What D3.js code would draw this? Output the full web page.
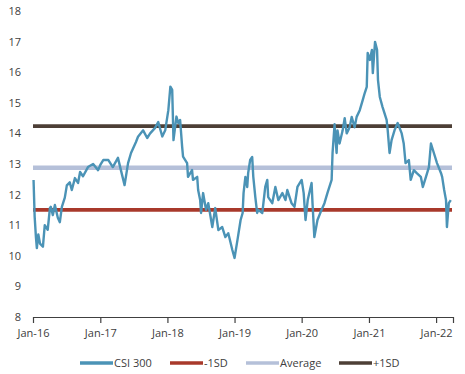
<!DOCTYPE html>
<html>
<head>
    <title>CSI 300 Forward P/E</title>
    <meta charset="utf-8">
    <script src="https://cdnjs.cloudflare.com/ajax/libs/d3/7.8.5/d3.min.js"></script>
    <style>
        * { margin: 0; padding: 0; }
        body { background: #fff; }
        text { font-family: "Open Sans", sans-serif; fill: #404040; }
    </style>
</head>
<body>
<script>
    // CSI 300 series
    var dates = [
        "2016-01-04","2016-01-10","2016-01-17","2016-01-22","2016-01-30","2016-02-08","2016-02-24","2016-03-05",
        "2016-03-21","2016-04-02","2016-04-07","2016-04-18","2016-04-29","2016-05-15","2016-05-26","2016-06-06",
        "2016-06-22","2016-07-03","2016-07-19","2016-07-30","2016-08-16","2016-09-02","2016-09-13","2016-09-29",
        "2016-10-26","2016-11-23","2016-12-20","2017-01-01","2017-01-17","2017-02-14","2017-03-10","2017-04-07",
        "2017-04-23","2017-05-13","2017-06-01","2017-06-17","2017-07-14","2017-07-25","2017-08-22","2017-09-13",
        "2017-09-29","2017-10-26","2017-11-12","2017-12-04","2017-12-20","2018-01-06","2018-01-17","2018-01-27",
        "2018-02-03","2018-02-19","2018-03-01","2018-03-11","2018-03-22","2018-03-27","2018-04-18","2018-04-23",
        "2018-05-15","2018-05-20","2018-06-12","2018-06-17","2018-06-28","2018-07-03","2018-07-14","2018-07-30",
        "2018-08-11","2018-09-02","2018-09-18","2018-10-05","2018-10-26","2018-11-12","2018-11-28","2018-12-20",
        "2019-01-01","2019-01-17","2019-02-03","2019-02-14","2019-02-19","2019-03-01","2019-03-11","2019-03-16",
        "2019-03-27","2019-04-07","2019-04-13","2019-04-24","2019-05-04","2019-05-10","2019-06-01","2019-06-17",
        "2019-06-28","2019-07-03","2019-07-25","2019-08-11","2019-08-27","2019-09-18","2019-10-05","2019-10-15",
        "2019-11-07","2019-11-23","2019-12-09","2020-01-01","2020-01-12","2020-01-22","2020-02-03","2020-02-24",
        "2020-02-29","2020-03-10","2020-03-27","2020-04-18","2020-05-04","2020-05-20","2020-06-12","2020-06-17",
        "2020-06-28","2020-07-09","2020-07-14","2020-07-25","2020-08-11","2020-08-22","2020-09-02","2020-09-18",
        "2020-09-29","2020-10-15","2020-10-26","2020-11-12","2020-11-28","2020-12-09","2020-12-20","2020-12-25",
        "2021-01-06","2021-01-17","2021-01-22","2021-02-03","2021-02-14","2021-02-19","2021-03-01","2021-03-16",
        "2021-04-07","2021-04-13","2021-04-23","2021-05-04","2021-05-20","2021-06-06","2021-06-28","2021-07-09",
        "2021-07-19","2021-08-06","2021-08-16","2021-09-02","2021-09-18","2021-10-10","2021-10-21","2021-11-07",
        "2021-11-23","2021-12-04","2021-12-20","2022-01-06","2022-01-28","2022-02-03","2022-02-14","2022-02-24",
        "2022-03-01","2022-03-11","2022-03-22"
    ];
    var csi300 = [
        12.48,11.28,10.6,10.25,10.7,10.4,10.3,11.0,
        10.85,11.56,11.6,11.33,11.66,11.24,11.1,11.6,
        11.9,12.3,12.4,12.15,12.54,12.38,12.74,12.6,
        12.9,13.0,12.8,12.97,13.13,13.13,12.9,13.2,
        12.8,12.31,13.03,13.36,13.72,13.89,14.1,13.85,
        14.0,14.18,14.37,13.9,14.1,14.76,15.53,15.42,
        13.78,14.55,14.34,14.44,13.57,13.24,13.03,12.58,
        12.8,12.48,12.58,12.15,11.82,11.4,12.05,11.5,
        11.72,10.94,11.56,10.84,10.94,10.61,10.74,10.19,
        9.93,10.52,11.17,11.4,12.05,12.58,12.25,12.7,
        13.13,13.23,12.58,11.92,11.4,11.5,11.4,12.25,
        12.48,11.92,11.72,12.25,11.82,12.05,11.82,12.15,
        11.72,11.6,12.25,12.48,12.05,11.17,11.82,12.38,
        11.72,10.61,11.17,11.5,11.72,12.05,12.48,13.36,
        14.3,13.36,14.1,13.67,14.1,14.5,14.0,14.2,
        14.54,14.2,14.54,14.76,15.09,15.32,15.52,16.63,
        16.4,16.73,15.97,16.99,16.73,15.75,15.19,14.86,
        14.44,14.1,13.36,13.78,14.1,14.34,14.0,13.67,
        13.03,13.13,12.48,12.8,12.7,12.58,12.25,12.58,
        12.9,13.67,13.36,13.03,12.7,12.58,12.15,11.82,
        10.94,11.72,11.82
    ];

    // Reference levels
    var bandNames = ["-1SD", "Average", "+1SD"];
    var bandValues = [11.5, 12.88, 14.24];
    var bandColors = ["#a8392b", "#b5c0d9", "#4d3f36"];

    var yTicks = [8, 9, 10, 11, 12, 13, 14, 15, 16, 17, 18];
    var xTicks = ["2016-01-01","2017-01-01","2018-01-01","2019-01-01","2020-01-01","2021-01-01","2022-01-01"];

    var lineColor = "#4b93b6";

    var width = 465, height = 374;
    var plotLeft = 33, plotRight = 453, plotTop = 11, plotBottom = 317;

    var parse = d3.timeParse("%Y-%m-%d");
    var data = dates.map(function(d, i) {
        return { date: parse(d), value: csi300[i] };
    });

    var svg = d3.select("body").append("svg")
        .attr("width", width)
        .attr("height", height);

    var x = d3.scaleTime()
        .domain([parse("2016-01-01"), parse("2022-04-03")])
        .range([plotLeft, plotRight]);

    var y = d3.scaleLinear()
        .domain([8, 18])
        .range([plotBottom, plotTop]);

    // y labels, no axis line
    svg.append("g")
        .attr("transform", "translate(" + plotLeft + ",0)")
        .call(d3.axisLeft(y).tickValues(yTicks).tickSize(0).tickPadding(12).tickFormat(d3.format("d")))
        .call(function(g) { g.select(".domain").remove(); })
        .selectAll("text")
        .style("font-size", "11px")
        .style("font-family", "'Open Sans', sans-serif")
        .attr("fill", "#404040");

    // x axis
    var xAxis = svg.append("g")
        .attr("transform", "translate(0," + plotBottom + ")")
        .call(d3.axisBottom(x)
            .tickValues(xTicks.map(parse).concat([x.domain()[1]]))
            .tickSize(6)
            .tickSizeOuter(0)
            .tickPadding(6)
            .tickFormat(function(d, i) { return i < xTicks.length ? d3.timeFormat("%b-%y")(d) : ""; }));
    xAxis.select(".domain").attr("stroke", "#404040").attr("stroke-width", 1.2);
    xAxis.selectAll(".tick line").attr("stroke", "#404040").attr("stroke-width", 1.2);
    xAxis.selectAll("text")
        .style("font-size", "11px")
        .style("font-family", "'Open Sans', sans-serif")
        .attr("fill", "#404040");

    // SD bands
    svg.selectAll(".band")
        .data(bandValues)
        .enter().append("line")
        .attr("class", "band")
        .attr("x1", plotLeft)
        .attr("x2", plotRight - 1)
        .attr("y1", function(d) { return y(d); })
        .attr("y2", function(d) { return y(d); })
        .attr("stroke", function(d, i) { return bandColors[i]; })
        .attr("stroke-width", function(d, i) { return i == 1 ? 4.5 : 3.8; });

    // CSI 300 line
    var line = d3.line()
        .x(function(d) { return x(d.date); })
        .y(function(d) { return y(d.value); });

    svg.append("path")
        .datum(data)
        .attr("fill", "none")
        .attr("stroke", lineColor)
        .attr("stroke-width", 2.4)
        .attr("stroke-linejoin", "round")
        .attr("d", line);

    // Legend
    var legendNames = ["CSI 300"].concat(bandNames);
    var legendColors = [lineColor].concat(bandColors);
    var legendX = [80, 170, 246, 339];

    var legend = svg.selectAll(".legend")
        .data(legendNames)
        .enter().append("g")
        .attr("class", "legend")
        .attr("transform", function(d, i) { return "translate(" + legendX[i] + ",363)"; });

    legend.append("line")
        .attr("x1", 0)
        .attr("x2", 33)
        .attr("stroke", function(d, i) { return legendColors[i]; })
        .attr("stroke-width", 3.5);

    legend.append("text")
        .attr("x", 34)
        .attr("dy", "0.35em")
        .style("font-size", "11px")
        .text(function(d) { return d; });
</script>
</body>
</html>
